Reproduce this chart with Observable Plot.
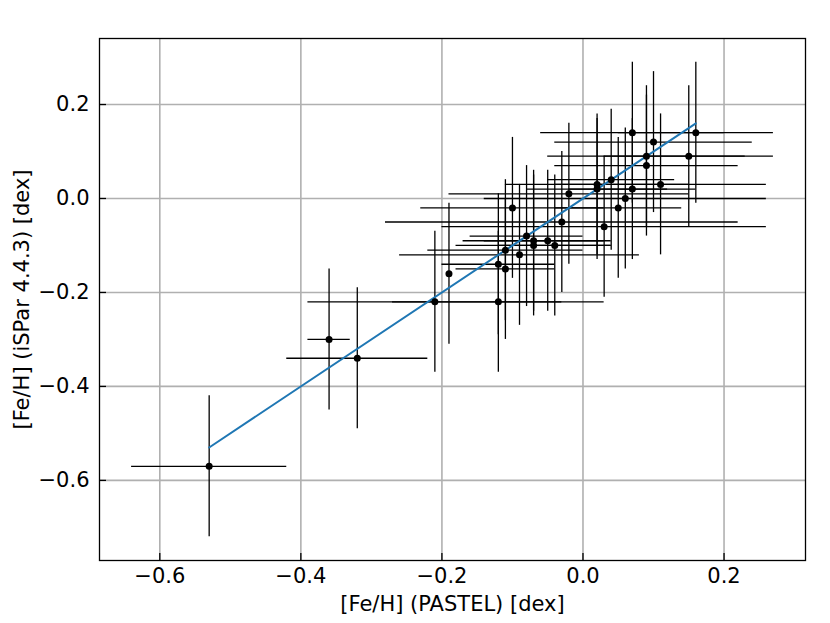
<!DOCTYPE html>
<html>
<head>
<meta charset="utf-8">
<script src="https://cdn.jsdelivr.net/npm/d3@7"></script>
<script src="https://cdn.jsdelivr.net/npm/@observablehq/plot@0.6"></script>
<style>
  html, body { margin: 0; padding: 0; background: #fff; }
  #chart svg { display: block; }
</style>
</head>
<body>
<div id="chart"></div>
<script>
// [Fe/H] PASTEL (x), iSPar 4.4.3 (y), with uncertainties
const feh_pastel = [-0.53, -0.36, -0.32, -0.21, -0.19, -0.12, -0.12, -0.11, -0.11, -0.10, -0.09, -0.08, -0.07, -0.07, -0.05, -0.04,
                    -0.03, -0.02, 0.02, 0.02, 0.03, 0.04, 0.05, 0.06, 0.07, 0.07, 0.09, 0.09, 0.10, 0.11, 0.15, 0.16];
const feh_ispar = [-0.57, -0.30, -0.34, -0.22, -0.16, -0.22, -0.14, -0.11, -0.15, -0.02, -0.12, -0.08, -0.09, -0.10, -0.09, -0.10,
                   -0.05, 0.01, 0.03, 0.02, -0.06, 0.04, -0.02, 0.00, 0.02, 0.14, 0.09, 0.07, 0.12, 0.03, 0.09, 0.14];
const err_pastel = [0.11, 0.03, 0.10, 0.18, 0.00, 0.15, 0.08, 0.11, 0.07, 0.13, 0.17, 0.08, 0.10, 0.11, 0.09, 0.08,
                    0.25, 0.17, 0.13, 0.10, 0.23, 0.09, 0.09, 0.20, 0.09, 0.13, 0.14, 0.13, 0.14, 0.15, 0.12, 0.11];
const err_ispar = [0.15, 0.15, 0.15, 0.15, 0.15, 0.15, 0.15, 0.15, 0.15, 0.15, 0.15, 0.15, 0.15, 0.15, 0.15, 0.15,
                   0.15, 0.15, 0.15, 0.15, 0.15, 0.15, 0.15, 0.15, 0.15, 0.15, 0.15, 0.15, 0.15, 0.15, 0.15, 0.15];
const xTicks = [-0.6, -0.4, -0.2, 0.0, 0.2];
const yTicks = [-0.6, -0.4, -0.2, 0.0, 0.2];
const xLabel = "[Fe/H] (PASTEL) [dex]";
const yLabel = "[Fe/H] (iSPar 4.4.3) [dex]";

const data = feh_pastel.map((x, i) => ({x, y: feh_ispar[i], ex: err_pastel[i], ey: err_ispar[i]}));

// axis limits: data extent incl. errors plus 5% margin (matplotlib default)
function lim(lo, hi) { const r = hi - lo; return [lo - 0.05 * r, hi + 0.05 * r]; }
const xDom = lim(d3.min(data, d => d.x - d.ex), d3.max(data, d => d.x + d.ex));
const yDom = lim(d3.min(data, d => d.y - d.ey), d3.max(data, d => d.y + d.ey));

// 1:1 line over the x range of the data
const xr = d3.extent(feh_pastel);
const oneToOne = xr.map(v => ({x: v, y: v}));

const W = 830, H = 623;
const mL = 99, mR = 25, mT = 38, mB = 63;
const innerH = H - mT - mB, innerW = W - mL - mR;
const fmt = d => d3.format(".1f")(d).replace("-", "\u2212");

const chart = Plot.plot({
  width: W, height: H,
  marginLeft: mL, marginRight: mR, marginTop: mT, marginBottom: mB,
  style: {fontFamily: "DejaVu Sans", fontSize: "21px", color: "black", background: "white"},
  x: {domain: xDom},
  y: {domain: yDom},
  marks: [
    Plot.gridX(xTicks, {stroke: "#b0b0b0", strokeOpacity: 1, strokeWidth: 1.6}),
    Plot.gridY(yTicks, {stroke: "#b0b0b0", strokeOpacity: 1, strokeWidth: 1.6}),
    Plot.ruleY(data, {y: "y", x1: d => d.x - d.ex, x2: d => d.x + d.ex, stroke: "black", strokeWidth: 1.3}),
    Plot.ruleX(data, {x: "x", y1: d => d.y - d.ey, y2: d => d.y + d.ey, stroke: "black", strokeWidth: 1.3}),
    Plot.line(oneToOne, {x: "x", y: "y", stroke: "#1f77b4", strokeWidth: 2}),
    Plot.dot(data, {x: "x", y: "y", r: 3.5, fill: "black", stroke: "none"}),
    Plot.ruleX(xTicks, {x: d => d, insetTop: innerH - 7, stroke: "black", strokeWidth: 1.3}),
    Plot.ruleY(yTicks, {y: d => d, insetRight: innerW - 7, stroke: "black", strokeWidth: 1.3}),
    Plot.axisX(xTicks, {tickSize: 0, tickPadding: 8, tickFormat: fmt, label: null, fontSize: 21}),
    Plot.axisY(yTicks, {tickSize: 0, tickPadding: 10, tickFormat: fmt, label: null, fontSize: 21}),
    Plot.frame({stroke: "black", strokeWidth: 1.3}),
    Plot.text([xLabel], {frameAnchor: "bottom", dy: 50, text: d => d, fontSize: 21, lineAnchor: "bottom", fill: "black"}),
    Plot.text([yLabel], {frameAnchor: "left", dx: -77, rotate: -90, textAnchor: "middle", text: d => d, fontSize: 21, fill: "black"})
  ]
});
document.getElementById("chart").appendChild(chart);
</script>
</body>
</html>
